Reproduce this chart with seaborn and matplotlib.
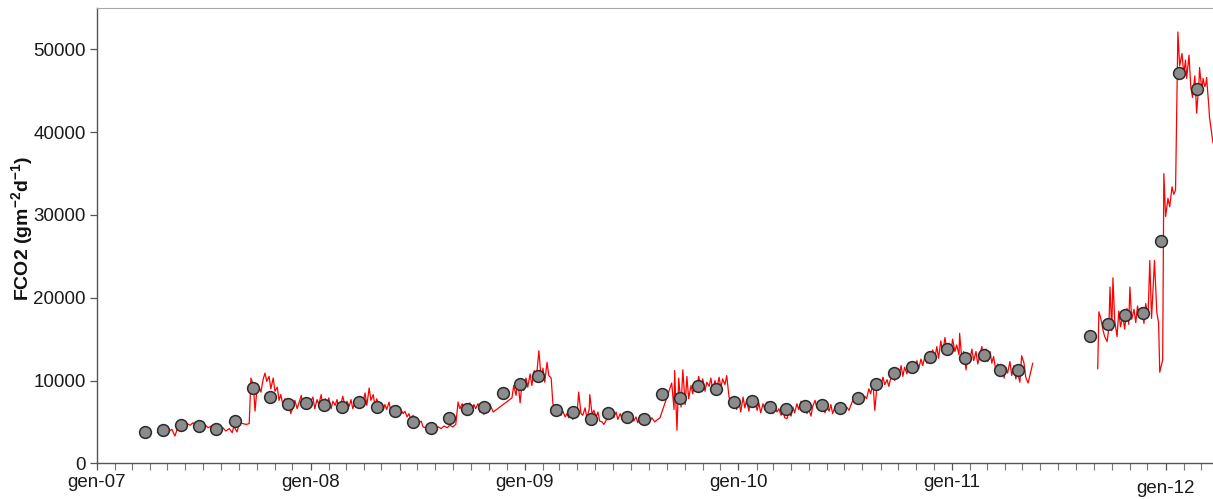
import numpy as np
import pandas as pd
import matplotlib
matplotlib.use("Agg")
import matplotlib.pyplot as plt
import matplotlib.dates as mdates
import matplotlib.transforms as mtransforms
import seaborn as sns

# ---------------- data ----------------
# daily FCO2 readings (day offset since 2007-01-01, value)
red_day_a = [103,108,113,118,123,128,133,138,144,149,154,159,164,169,174,179,185,190,195,200,
             205,210,215,220,226,231,234,239,244,249,255,260,263,267,270,273,277,280,284,287,
             290,294,297,301,304,308,311,314,318,321,325,328,331,335,338,342,345,349,352,355,
             359,362,366,369,372,376,379,383,386,390,393,396,400,403,407,410,413,417,420,424,
             427,431,434,437,441,444,448,451,454,458,461,465,468,472,475,478,482,485,489,492,
             495,499,502,506,509,513,516,519,523,526,530,533,536,540,543,547,550,554,557,562,
             567,572,577,583,588,593,598,603,608,613,617,620,624,627,630,634,637,641,644,647,
             651,654,658,661,665,668,671,677,709,712,716,719,723,726,729,733,736,740,743,747,
             750,753,755,759,762,765,769,772,776,779,782,786,789,793,796,800,803,806,810,813,
             817,820,823,827,830,834,837,841,842,846,849,853,856,859,863,866,870,873,876,880,
             883,887,890,894,897,900,904,907,911,914,917,921,924,928,931,935,938,941,945,948,
             953,958,962,982,986,987,991,994,998,1001,1005,1008,1011,1015,1018,1022,1025,1028,1032,1035,
             1039,1042,1046,1049,1052,1056,1059,1063,1066,1069,1073,1076,1080,1083,1087,1090,1093,1097,1100,1104,
             1107,1110,1114,1117,1121,1124,1128,1131,1134,1138,1141,1145,1148,1151,1155,1158,1162,1165,1169,1172,
             1175,1179,1182,1186,1189,1192,1196,1199,1203,1206,1210,1213,1216,1220,1223,1227,1230,1233,1237,1240,
             1244,1247,1251,1254,1257,1261,1264,1268,1271,1274,1278,1281,1285,1288,1292,1295,1298,1302,1305,1309,
             1312,1315,1319,1322,1326,1329,1333,1336,1339,1343,1346,1350,1353,1356,1360,1363,1367,1370,1374,1377,
             1380,1384,1387,1391,1394,1397,1401,1404,1408,1411,1415,1418,1421,1425,1428,1432,1435,1438,1442,1445,
             1449,1452,1456,1459,1462,1466,1469,1473,1474,1478,1481,1485,1488,1491,1495,1498,1502,1505,1509,1512,
             1515,1519,1522,1526,1529,1532,1536,1539,1543,1546,1550,1553,1556,1560,1563,1567,1570,1573,1577,1580,
             1584,1587,1591,1594,1599]
red_val_a = [3700,3800,3650,4000,3900,4100,3300,4300,4900,4500,4800,4600,4900,4500,4700,4400,4600,4300,4500,4200,
             4400,4100,4300,3900,4200,3700,4500,3800,4900,4800,4700,4800,10300,9500,6300,8800,9200,8600,10200,10900,
             9900,10500,9000,10300,8700,9200,7600,8300,6900,7800,6400,7300,6000,6800,7600,6600,7300,8200,6800,7500,
             7900,6700,7600,8000,6600,7700,7100,8300,6700,7800,7200,7900,6600,7500,7000,7700,6700,7300,8100,6800,
             7500,6900,7700,6600,7400,7800,6900,7900,7200,8500,7000,9100,7600,8300,6900,7800,6800,7300,6400,7100,
             6500,7400,6300,6900,6200,7000,6100,6500,6000,6300,5600,6000,5400,5800,5100,5400,4900,5100,4400,4300,
             4000,4300,4100,4400,4200,4500,4300,4600,4400,4700,7400,6600,7200,6400,7000,6800,7300,6500,7100,6600,
             7200,6200,7000,5900,6800,6300,7200,6200,7900,9400,8200,10000,7300,9600,8800,10300,9200,10800,9400,11200,
             9900,12000,13600,10200,11500,9800,12200,10600,10300,7200,6700,6200,6500,5800,6300,5600,6000,5500,5800,5300,
             6100,5600,8600,6000,5800,6700,5500,6500,8300,5900,6400,5600,6200,5100,5000,4700,5200,5900,5400,6300,
             5500,6200,5300,6000,5400,5900,5200,5800,5000,5700,5100,5600,4900,5800,5000,5400,4900,5700,5100,5500,
             5000,5300,5500,9700,6500,11200,4000,10300,6800,11300,7100,10500,7800,9400,8400,9900,8800,10500,9200,10200,
             8700,9800,9300,10300,8800,10000,9000,10400,9100,10200,9500,10600,8000,7200,6900,7800,6500,7500,6200,8000,
             6700,7600,6300,7800,7000,7500,6400,7300,6100,7200,6500,7400,6200,7100,6000,6900,6200,6600,5800,6500,
             5500,5400,6100,5700,6800,6100,7200,6500,7500,6600,7300,6000,6600,5700,6900,7600,6700,7300,6400,7200,
             6100,6900,6300,7100,6000,6800,6200,7000,6300,6900,6200,6800,6400,7000,7700,7400,8000,7500,7900,7600,
             8100,7800,9000,8400,9700,6400,9500,9900,9200,10400,9500,10100,9300,10200,10700,10000,11400,10400,11800,10500,
             11600,10800,12200,11000,11900,11200,12400,11400,12600,11800,13000,12100,13400,12500,13700,12800,14100,12700,14800,13300,
             15200,13600,14500,13300,15000,13500,14300,13100,15700,12400,13500,11300,12900,12300,13800,12400,13500,12000,13200,14100,
             12600,13800,12300,13500,12100,12900,11200,12000,10800,11700,10300,11600,10900,12300,10600,11800,10200,11000,9800,13000,
             12100,10400,9700,10600,12100]

red_day_b = [1710,1712,1715,1719,1722,1726,1729,1731,1734,1736,1739,1743,1746,1749,1753,1756,1760,1763,1765,1768,
             1772,1775,1778,1782,1785,1789,1792,1796,1799,1802,1807,1811,1814,1816,1821,1823,1826,1830,1833,1837,
             1840,1843,1847,1850,1854,1857,1860,1862,1866,1869,1872,1876,1879,1883,1884,1888,1890,1893,1895,1896,
             1900,1901,1907]
red_val_b = [11400,18300,17600,16100,15300,14700,16300,21300,16000,22400,17300,15300,18400,16500,17800,16200,18700,16800,21300,17400,
             18600,17000,19000,17600,18800,16900,19300,17800,24500,17500,24500,18200,17000,11000,12500,35000,29800,32000,31000,33400,
             32500,33000,52100,48000,49500,47000,48700,46500,49300,45500,44200,46800,42300,46000,47800,45000,46500,45500,45900,46600,
             43000,41800,38700]

# monthly means, March 2007 - February 2012 (NaN = no data)
month_start = "2007-03-01"
month_vals = [3740, 3990, 4630, 4510, 4100, 5150, 9100, 8010, 7170, 7300,
              7020, 6790, 7400, 6790, 6270, 5020, 4260, 5430, 6550, 6770, 8450, 9530,
              10540, 6400, 6150, 5390, 6030, 5550, 5390, 8400, 7900, 9290, 8930, 7400,
              7560, 6790, 6510, 6910, 7030, 6630, 7920, 9550, 10930, 11660, 12790, 13790,
              12670, 13070, 11260, 11260, np.nan, np.nan, np.nan, 15400, 16810, 17900, 18180, 26830,
              47140, 45250]

year_labels = ["gen-07", "gen-08", "gen-09", "gen-10", "gen-11", "gen-12"]
y_ticks = [0, 10000, 20000, 30000, 40000, 50000]

# ---------------- build frames ----------------
base = pd.Timestamp("2007-01-01")
df_a = pd.DataFrame({"date": base + pd.to_timedelta(red_day_a, unit="D"), "fco2": red_val_a})
df_b = pd.DataFrame({"date": base + pd.to_timedelta(red_day_b, unit="D"), "fco2": red_val_b})
mdates_idx = pd.date_range(month_start, periods=len(month_vals), freq="MS") + pd.Timedelta(days=23)
df_m = pd.DataFrame({"date": mdates_idx, "fco2": month_vals}).dropna()

# ---------------- plot ----------------
sns.set_style("ticks")
plt.rcParams["font.family"] = ["Liberation Sans", "DejaVu Sans"]
plt.rcParams["mathtext.fontset"] = "custom"
plt.rcParams["mathtext.rm"] = "Liberation Sans"
plt.rcParams["mathtext.bf"] = "Liberation Sans:bold"
plt.rcParams["mathtext.it"] = "Liberation Sans:italic"

fig = plt.figure(figsize=(12.13, 4.99), dpi=100)
ax = fig.add_axes([0.080, 0.0715, 0.920, 0.9125])

sns.lineplot(data=df_a, x="date", y="fco2", ax=ax, color="#ff0000", linewidth=0.9,
             estimator=None, sort=True)
sns.lineplot(data=df_b, x="date", y="fco2", ax=ax, color="#ff0000", linewidth=0.9,
             estimator=None, sort=True)
sns.scatterplot(data=df_m, x="date", y="fco2", ax=ax, color="#8c8c8c", edgecolor="#2b2b2b",
                linewidth=1.1, s=72, zorder=5)

ax.set_xlim(pd.Timestamp("2007-01-01"), pd.Timestamp("2012-03-22"))
ax.set_ylim(0, 55000)

year_ticks = [pd.Timestamp(f"20{lab[-2:]}-01-01") for lab in year_labels]
ax.set_xticks(year_ticks)
ax.set_xticklabels(year_labels)
ax.xaxis.set_minor_locator(mdates.MonthLocator())
ax.set_yticks(y_ticks)
ax.set_yticklabels([str(v) for v in y_ticks])

ax.tick_params(axis="both", which="major", labelsize=13.5, length=5, width=0.9,
               color="#555555", labelcolor="#1a1a1a", direction="out", pad=3)
ax.tick_params(axis="x", which="minor", length=5, width=0.8, color="#777777")

# the last year label sits slightly lower in the reference
lab_last = ax.get_xticklabels()[-1]
lab_last.set_transform(lab_last.get_transform() +
                       mtransforms.ScaledTranslation(0, -6 / 100, fig.dpi_scale_trans))

ax.set_xlabel("")
ax.set_ylabel(r"FCO2 (gm$^{\mathbf{-2}}$d$^{\mathbf{-1}}$)", fontsize=14, fontweight="bold",
              color="#111111")
ax.yaxis.set_label_coords(-0.056, 0.515)

for side in ["left", "bottom"]:
    ax.spines[side].set_color("#555555")
    ax.spines[side].set_linewidth(1.0)
ax.spines["top"].set_visible(True)
ax.spines["top"].set_color("#a6a6a6")
ax.spines["right"].set_visible(False)

fig.savefig("out.png", dpi=100)
